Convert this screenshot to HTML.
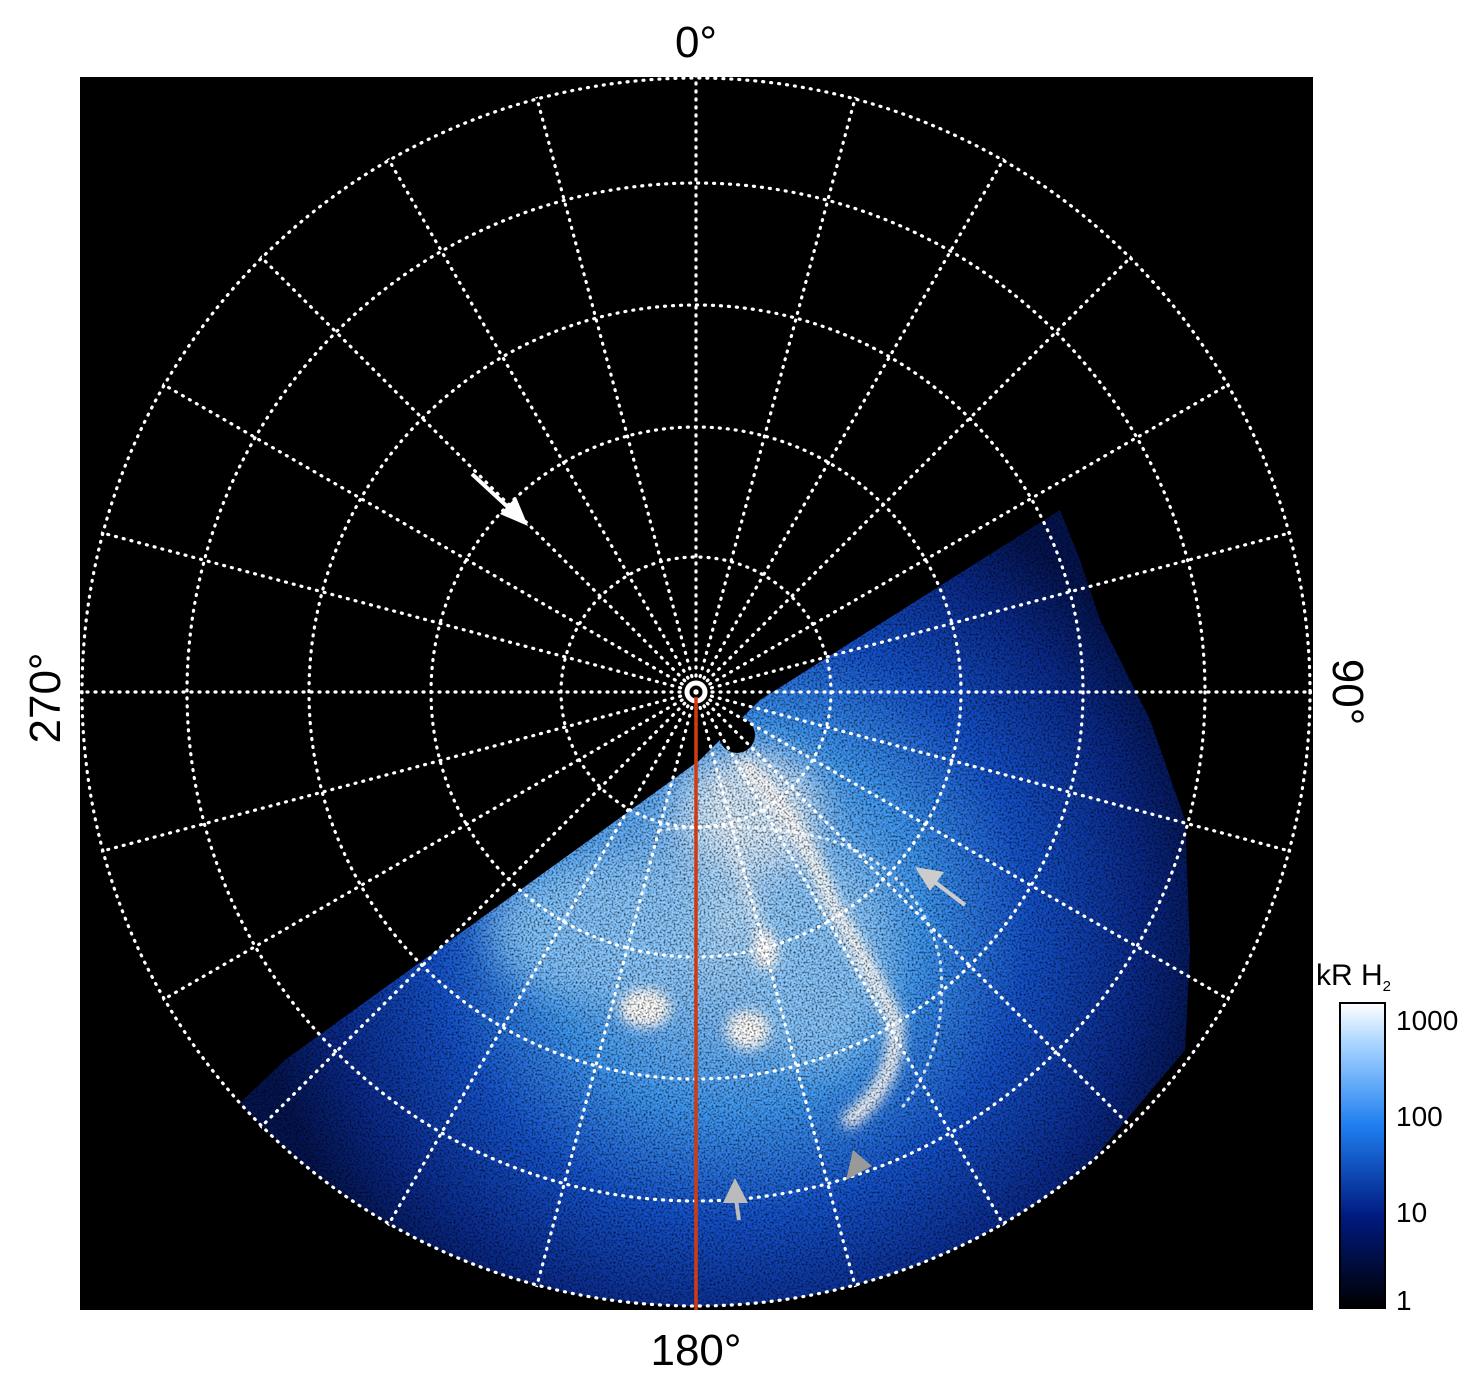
<!DOCTYPE html>
<html><head><style>
html,body{margin:0;padding:0;background:#fff;}
body{width:1481px;height:1386px;position:relative;overflow:hidden;font-family:"Liberation Sans",sans-serif;}
</style></head><body>
<svg width="1481" height="1386" viewBox="0 0 1481 1386" xmlns="http://www.w3.org/2000/svg">
<defs>
<clipPath id="box"><rect x="80" y="77" width="1233" height="1233"/></clipPath>
<clipPath id="circ"><circle cx="696" cy="692" r="616"/></clipPath>
<clipPath id="sec"><path d="M700,760 L760,700 L1060,510 L1080,560 L1100,620 L1150,720 L1185,820 L1190,950 L1185,1050 L1091,1162 A614 614 0 0 1 240,1103 L285,1060 Z"/></clipPath>
<radialGradient id="rg" cx="730" cy="920" r="480" gradientUnits="userSpaceOnUse">
<stop offset="0" stop-color="#b8e0ff"/>
<stop offset="0.4" stop-color="#3f98f2"/>
<stop offset="0.62" stop-color="#1452cc"/>
<stop offset="0.85" stop-color="#0a2a8c"/>
<stop offset="1" stop-color="#041450"/>
</radialGradient>
<filter id="noise" x="0" y="0" width="100%" height="100%">
<feTurbulence type="fractalNoise" baseFrequency="0.5" numOctaves="2" seed="3"/>
<feColorMatrix values="0 0 0 0 0  0 0 0 0 0  0 0 0 0 0  0 0 0 -2.6 1.45"/>
</filter>
<filter id="b6"><feGaussianBlur stdDeviation="6"/></filter>
<filter id="b14"><feGaussianBlur stdDeviation="18"/></filter>
<linearGradient id="cb" x1="0" y1="1" x2="0" y2="0">
<stop offset="0" stop-color="#000"/>
<stop offset="0.3" stop-color="#001a80"/>
<stop offset="0.6" stop-color="#1f7ff0"/>
<stop offset="0.85" stop-color="#9fd0ff"/>
<stop offset="1" stop-color="#fff"/>
</linearGradient>
</defs>
<rect x="80" y="77" width="1233" height="1233" fill="#000"/>
<g clip-path="url(#box)">
<g clip-path="url(#sec)">
<rect x="80" y="400" width="1233" height="910" fill="#041450"/>
<circle cx="730" cy="920" r="480" fill="url(#rg)"/>
<g filter="url(#b14)" opacity="0.85">
<ellipse cx="750" cy="810" rx="70" ry="60" fill="#e6f4ff"/>
<ellipse cx="600" cy="930" rx="110" ry="70" fill="#8ccaff"/>
<ellipse cx="820" cy="960" rx="70" ry="110" fill="#8ccaff"/>
</g>
<g filter="url(#b6)" fill="none" stroke="#fff" stroke-linecap="round">
<path d="M745,765 Q800,820 830,900 Q870,970 895,1020 Q900,1080 850,1120" stroke-width="16"/>
<path d="M720,780 Q740,880 770,960" stroke-width="10" stroke="#e0f0ff"/>
</g>
<g filter="url(#b6)" fill="#fff">
<ellipse cx="645" cy="1008" rx="26" ry="20"/>
<ellipse cx="748" cy="1030" rx="22" ry="20"/>
<ellipse cx="765" cy="950" rx="12" ry="20"/>
</g>
<rect x="80" y="400" width="1233" height="910" filter="url(#noise)" opacity="0.7"/>
</g>
<circle cx="737" cy="735" r="18" fill="#000"/>
<g fill="none" stroke="#fff" stroke-width="3.2" stroke-dasharray="1 7" stroke-linecap="round">
<circle cx="696" cy="692" r="614"/>
<circle cx="696" cy="692" r="509"/>
<circle cx="696" cy="692" r="387"/>
<circle cx="696" cy="692" r="265"/>
<circle cx="696" cy="692" r="135"/>
<g clip-path="url(#circ)">
<g id="rad">
<line x1="696" y1="692" x2="696" y2="0"/>
<line x1="696" y1="692" x2="696" y2="0" transform="rotate(15 696 692)"/>
<line x1="696" y1="692" x2="696" y2="0" transform="rotate(30 696 692)"/>
<line x1="696" y1="692" x2="696" y2="0" transform="rotate(45 696 692)"/>
<line x1="696" y1="692" x2="696" y2="0" transform="rotate(60 696 692)"/>
<line x1="696" y1="692" x2="696" y2="0" transform="rotate(75 696 692)"/>
<line x1="696" y1="692" x2="696" y2="0" transform="rotate(90 696 692)"/>
<line x1="696" y1="692" x2="696" y2="0" transform="rotate(105 696 692)"/>
<line x1="696" y1="692" x2="696" y2="0" transform="rotate(120 696 692)"/>
<line x1="696" y1="692" x2="696" y2="0" transform="rotate(135 696 692)"/>
<line x1="696" y1="692" x2="696" y2="0" transform="rotate(150 696 692)"/>
<line x1="696" y1="692" x2="696" y2="0" transform="rotate(165 696 692)"/>
</g>
<use href="#rad" transform="rotate(180 696 692)"/>
</g>
<path d="M660,830 Q760,820 830,840 Q920,870 940,960 Q950,1050 900,1110" opacity="0.8"/>
</g>
</g>
<circle cx="696" cy="692" r="10" fill="none" stroke="#fff" stroke-width="3"/>
<line x1="696" y1="697" x2="696" y2="1310" stroke="#d03a10" stroke-width="3.5"/>
<line x1="472" y1="474" x2="510" y2="509" stroke="#fff" stroke-width="4"/>
<polygon points="528,526 500,514 516,497" fill="#fff"/>
<line x1="965" y1="905" x2="932" y2="880" stroke="#ccc" stroke-width="4"/>
<polygon points="915,867 944,872 930,891" fill="#ccc"/>
<line x1="739" y1="1220" x2="736" y2="1200" stroke="#bbb" stroke-width="4"/>
<polygon points="735,1178 748,1203 723,1203" fill="#bbb"/>
<polygon points="846,1180 872,1166 853,1150" fill="#999"/>
<text x="696" y="57" font-size="44" text-anchor="middle" fill="#000">0°</text>
<text x="696" y="1365" font-size="44" text-anchor="middle" fill="#000">180°</text>
<text transform="translate(60,698) rotate(-90)" font-size="44" text-anchor="middle" fill="#000">270°</text>
<text transform="translate(1333,692) rotate(90)" font-size="44" text-anchor="middle" fill="#000">90°</text>
<rect x="1340" y="1003" width="45" height="305" fill="url(#cb)" stroke="#000" stroke-width="2"/>
<text x="1316" y="985" font-size="30" fill="#000">kR H<tspan font-size="15" dy="6">2</tspan></text>
<g font-size="28" fill="#000">
<text x="1396" y="1030">1000</text>
<text x="1396" y="1126">100</text>
<text x="1396" y="1222">10</text>
<text x="1396" y="1310">1</text>
</g>
</svg>
</body></html>
